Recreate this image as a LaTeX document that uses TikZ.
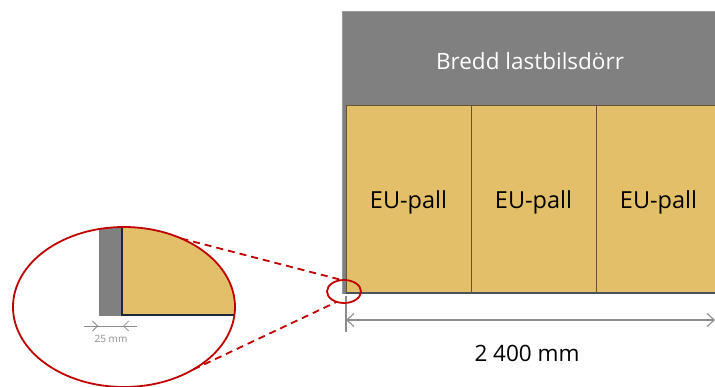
\documentclass[tikz,border=0pt]{standalone}
\usepackage{fontspec}
\setmainfont{Open Sans}
\usetikzlibrary{shapes.geometric,arrows.meta}
\definecolor{doorgray}{HTML}{808080}
\definecolor{palletfill}{HTML}{E3BF69}
\definecolor{edgedark}{HTML}{1C2833}
\definecolor{markred}{HTML}{C00000}
\definecolor{dimgray}{HTML}{8C8C8C}
\begin{document}
\begin{tikzpicture}[x=1pt,y=-1pt,
  palletbox/.style={draw=black!55!palletfill, line width=0.8pt, fill=palletfill,
    minimum width=125pt, minimum height=188pt, inner sep=0pt, outer sep=0pt,
    anchor=north west},
  pallettext/.style={font=\fontsize{23.5}{28}\selectfont},
  dimline/.style={draw=dimgray, line width=1.1pt},
  marker/.style={draw=markred, line width=1.8pt, ellipse, inner sep=0pt, outer sep=0pt},
  zoomline/.style={draw=markred, line width=1.8pt, dash pattern=on 7pt off 5pt}]
\clip (0,0) rectangle (715,387);
\fill[white] (0,0) rectangle (715,387);

% truck door
\fill[doorgray] (342,11) rectangle (716,294);
\draw[doorgray!80!white, line width=0.8pt] (342,294) -- (342,11) -- (716,11);
\node[text=white, font=\fontsize{22.5}{26}\selectfont] (door) at (530,61) {Bredd lastbilsdörr};

% pallets
\node[palletbox] (p1) at (346,105) {};
\node[palletbox] (p2) at (471,105) {};
\node[palletbox] (p3) at (596,105) {};
\node[pallettext] (t1) at ([yshift=-3pt]p1.center) {EU-pall};
\node[pallettext] (t2) at ([yshift=-3pt]p2.center) {EU-pall};
\node[pallettext] (t3) at ([yshift=-3pt]p3.center) {EU-pall};
\draw[edgedark!80, line width=1.4pt] (p1.south west) -- (p3.south east);

% width dimension
\coordinate (dl) at (346,320);
\coordinate (dr) at (715,320);
\draw[dimline] (346,296) -- (346,332);
\draw[dimline, {Straight Barb[length=7pt,width=13pt,line width=1.1pt]}-{Straight Barb[length=7pt,width=13pt,line width=1.1pt]}] (dl) -- (dr);
\node[text=black, font=\fontsize{22.5}{26}\selectfont] (width) at (527,353) {2 400 mm};

% detail view of the corner
\begin{scope}
  \clip (124,307) ellipse [x radius=111pt, y radius=80pt];
  \fill[doorgray] (99,200) rectangle (122,316);
  \fill[palletfill] (122,200) rectangle (300,315.5);
  \draw[edgedark, line width=2.4pt] (122,200) -- (122,315) -- (300,315);
\end{scope}
\node[marker, minimum width=222pt, minimum height=160pt] (detail) at (124,307) {};
\node[marker, minimum width=34pt, minimum height=23pt] (spot) at (344,291.5) {};

% gap dimension
\coordinate (ga) at (84,326);
\coordinate (gb) at (137,326);
\coordinate (gl) at (98,326);
\coordinate (gr) at (123,326);
\draw[draw=dimgray, line width=0.8pt] (ga) -- (gb);
\draw[draw=dimgray, line width=0.8pt, -{Straight Barb[length=5pt,width=10pt,line width=0.8pt]}] (ga) -- (gl);
\draw[draw=dimgray, line width=0.8pt, -{Straight Barb[length=5pt,width=10pt,line width=0.8pt]}] (gb) -- (gr);
\node[text=dimgray, font=\fontsize{10}{12}\selectfont] (gap) at (111,339) {25 mm};

% zoom connectors
\draw[zoomline] (detail.50) -- (spot.100);
\draw[zoomline] (detail.-42) -- (spot.-125);
\end{tikzpicture}
\end{document}
